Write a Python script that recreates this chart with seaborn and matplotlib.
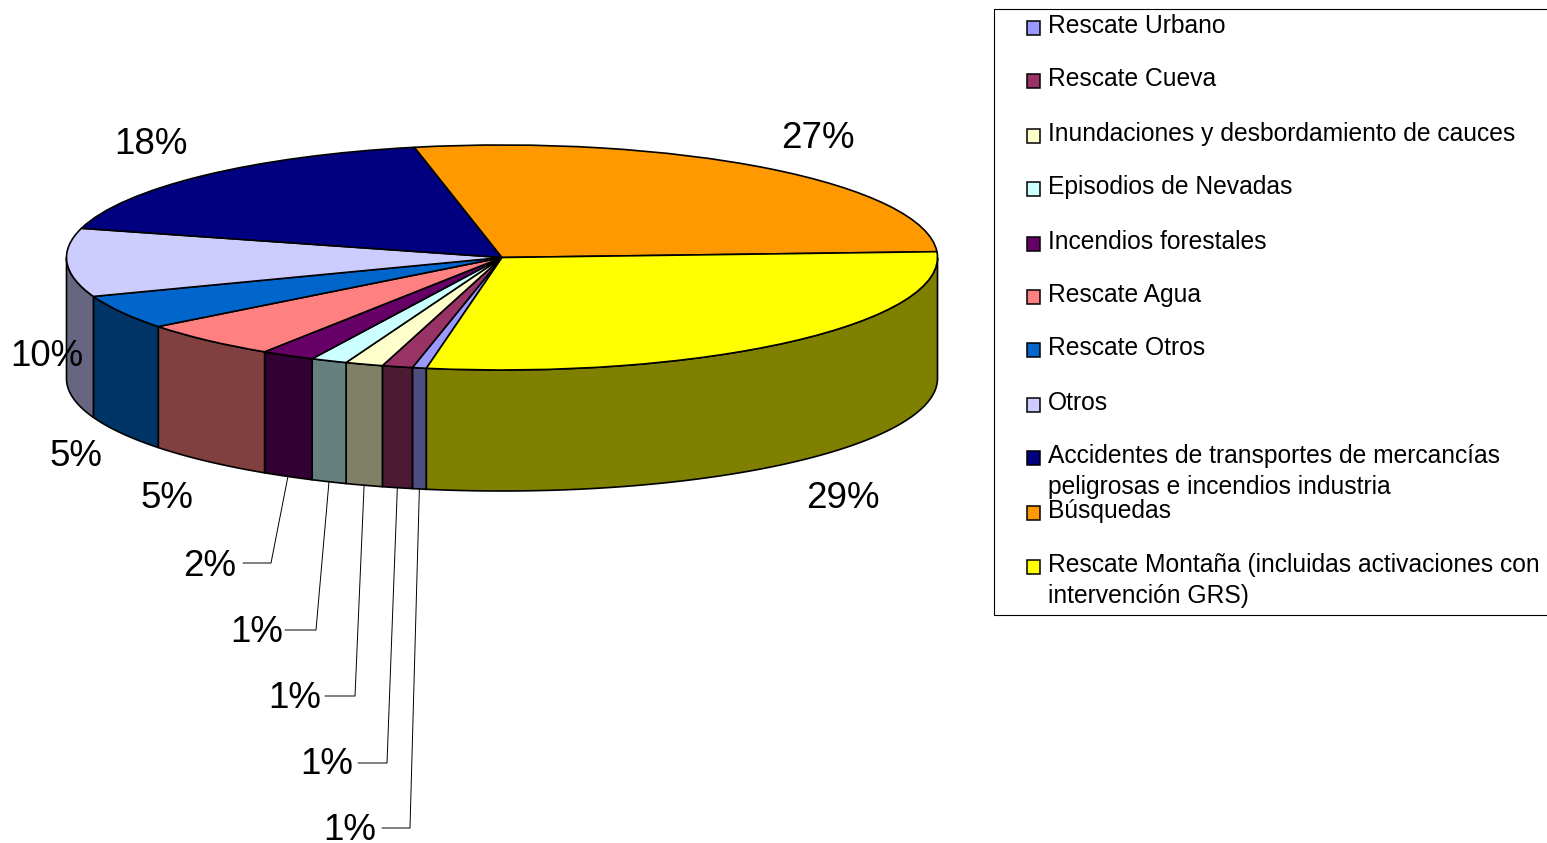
import numpy as np
import matplotlib
matplotlib.use("Agg")
import matplotlib.pyplot as plt
from matplotlib.patches import Rectangle
import seaborn as sns

categories = ["Rescate Urbano", "Rescate Cueva", "Inundaciones y desbordamiento de cauces",
              "Episodios de Nevadas", "Incendios forestales", "Rescate Agua", "Rescate Otros",
              "Otros", "Accidentes de transportes de mercancías\npeligrosas e incendios industria",
              "Búsquedas", "Rescate Montaña (incluidas activaciones con\nintervención GRS)"]
values = [0.52, 1.13, 1.4, 1.35, 2.0, 5.3, 4.9, 9.8, 17.6, 27.4, 28.6]
hex_colors = ["#9999FF", "#993366", "#FFFFCC", "#CCFFFF", "#660066", "#FF8080",
              "#0066CC", "#CCCCFF", "#000080", "#FF9900", "#FFFF00"]
label_xy = [(350, 830), (327, 765), (295, 698), (257, 632), (210, 566), (167, 499),
            (76, 456), (47, 356), (151, 145), (818, 139), (843, 499)]
elbows = [(382, 410, 828), (358, 387, 763), (325, 355, 696), (285, 316, 630), (243, 271, 563),
          None, None, None, None, None, None]
legend_y = [25, 78, 133, 186, 241, 294, 347, 402, 455, 510, 564]

W, H = 1547, 843
CX, CY, RX, RY, DEPTH = 502, 257.5, 435.5, 112.5, 121
START = 260.0

sns.set_theme(style="white")
plt.rcParams["font.family"] = ["Liberation Sans", "DejaVu Sans"]
palette = sns.color_palette(hex_colors)

fig = plt.figure(figsize=(W / 100, H / 100), dpi=100, facecolor="white")
ax = fig.add_axes([0, 0, 1, 1])
ax.pie(values, colors=palette, startangle=START, counterclock=False,
       wedgeprops=dict(edgecolor="black", linewidth=1.2))
ax.set_aspect("auto")
ax.set_xlim(-CX / RX, (W - CX) / RX)
ax.set_ylim(-(H - CY) / RY, CY / RY)
ax.axis("off")

# side wall, derived from the slice values
dz = DEPTH / RY
edges = START - np.cumsum([0] + values) * 3.6
for i, col in enumerate(palette):
    a0 = edges[i + 1]
    a1 = edges[i]
    if a1 > 180:
        a0c, a1c = max(a0, 180), a1
    else:
        a0c, a1c = max(a0, -180), min(a1, 0)
    if a1c <= a0c:
        continue
    t = np.radians(np.linspace(a0c, a1c, 80))
    x = np.r_[np.cos(t), np.cos(t[::-1])]
    y = np.r_[np.sin(t), np.sin(t[::-1]) - dz]
    side = tuple(c * 0.5 for c in col)
    ax.fill(x, y, facecolor=side, edgecolor="black", linewidth=1.2, zorder=0.5)

# overlay in pixel units for labels and legend
ov = fig.add_axes([0, 0, 1, 1], facecolor="none")
ov.set_xlim(0, W)
ov.set_ylim(H, 0)
ov.axis("off")

for i, (v, (lx, ly)) in enumerate(zip(values, label_xy)):
    ov.text(lx, ly, f"{v:.0f}%", fontsize=26.5, ha="center", va="center", color="black")
    if elbows[i] is not None:
        x0, x1, yy = elbows[i]
        mid = np.radians((edges[i] + edges[i + 1]) / 2)
        ax_x = CX + RX * np.cos(mid)
        ax_y = CY + DEPTH - RY * np.sin(mid)
        ov.plot([x0, x1, ax_x], [yy, yy, ax_y], color="black", lw=0.7)

ov.add_patch(Rectangle((994, 8.5), 560, 606.5, facecolor="white", edgecolor="black", lw=0.8, zorder=1))
for name, col, yy in zip(categories, palette, legend_y):
    ov.add_patch(Rectangle((1026.5, yy - 4), 13.5, 13.5, facecolor=col, edgecolor="black", lw=1.1, zorder=2))
    ov.text(1048, yy - 11, name, fontsize=17.7, ha="left", va="top", linespacing=1.36,
            color="black", zorder=2)

fig.savefig("out.png", dpi=100)
